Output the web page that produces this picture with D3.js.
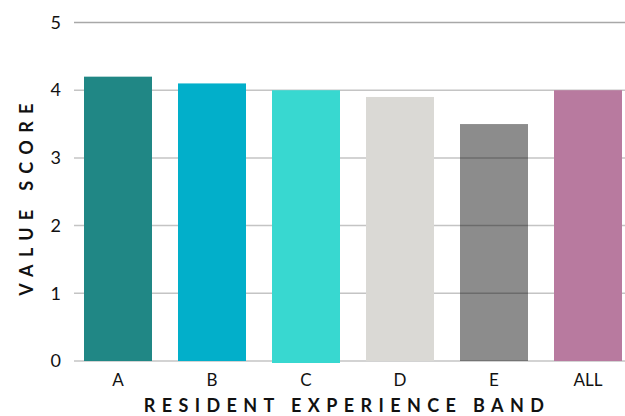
<!DOCTYPE html>
<html>
<head>
<meta charset="utf-8">
<script src="https://cdn.jsdelivr.net/npm/d3@7/dist/d3.min.js"></script>
<style>
  html, body { margin: 0; padding: 0; background: #fff; }
  svg { display: block; font-family: "Lato", "Open Sans", sans-serif; }
</style>
</head>
<body>
<svg id="chart" width="625" height="416"></svg>
<script>
// Experience bands and their average value score
const bands = ["A", "B", "C", "D", "E", "ALL"];
const scores = [4.2, 4.1, 4.0, 3.9, 3.5, 4.0];
const barColors = ["#208785", "#02afca", "#38d8d0", "#dad9d5", "rgba(0,0,0,0.45)", "#b87a9f"];
const yTicks = [0, 1, 2, 3, 4, 5];

const svg = d3.select("#chart");
const W = 625;

const x = d3.scaleBand()
  .domain(bands)
  .range([71, 635])
  .paddingInner(0.2766)
  .paddingOuter(0.1383);

const y = d3.scaleLinear()
  .domain([0, 5])
  .range([361, 22.5]);

// Horizontal grid lines
svg.append("g")
  .selectAll("line")
  .data(yTicks)
  .join("line")
  .attr("x1", 74)
  .attr("x2", W)
  .attr("y1", d => y(d))
  .attr("y2", d => y(d))
  .attr("stroke", d => d === 5 ? "#a8a8a8" : "#c4c4c4")
  .attr("stroke-width", 1.5);

// Bars
svg.append("g")
  .selectAll("rect")
  .data(bands.map((b, i) => ({ band: b, score: scores[i], color: barColors[i] })))
  .join("rect")
  .attr("x", d => x(d.band))
  .attr("width", x.bandwidth())
  .attr("y", d => y(d.score))
  .attr("height", d => y(0) - y(d.score) + (d.band === "C" ? 2 : 0))
  .attr("fill", d => d.color);

// Y axis tick labels
const yAxis = d3.axisLeft(y).tickValues(yTicks).tickSize(0).tickPadding(0).tickFormat(d3.format("d"));
svg.append("g")
  .attr("transform", "translate(61,0)")
  .call(yAxis)
  .call(g => g.select(".domain").remove())
  .selectAll("text")
  .attr("font-size", 18)
  .attr("font-family", "Lato, sans-serif")
  .attr("fill", "#111");

// X axis tick labels
const xAxis = d3.axisBottom(x).tickSize(0).tickPadding(0);
svg.append("g")
  .attr("transform", "translate(0,374)")
  .call(xAxis)
  .call(g => g.select(".domain").remove())
  .selectAll("text")
  .attr("dy", "0.71em")
  .attr("font-size", 17)
  .attr("font-family", "Lato, sans-serif")
  .attr("fill", "#111");

// Axis titles
svg.append("text")
  .attr("x", 347)
  .attr("y", 412)
  .attr("text-anchor", "middle")
  .attr("font-size", 18)
  .attr("font-weight", 700)
  .attr("letter-spacing", 6.4)
  .attr("fill", "#111")
  .text("RESIDENT EXPERIENCE BAND");

svg.append("text")
  .attr("transform", "translate(33,196) rotate(-90)")
  .attr("text-anchor", "middle")
  .attr("font-size", 18)
  .attr("font-weight", 700)
  .attr("letter-spacing", 7.3)
  .attr("fill", "#111")
  .text("VALUE SCORE");
</script>
</body>
</html>
